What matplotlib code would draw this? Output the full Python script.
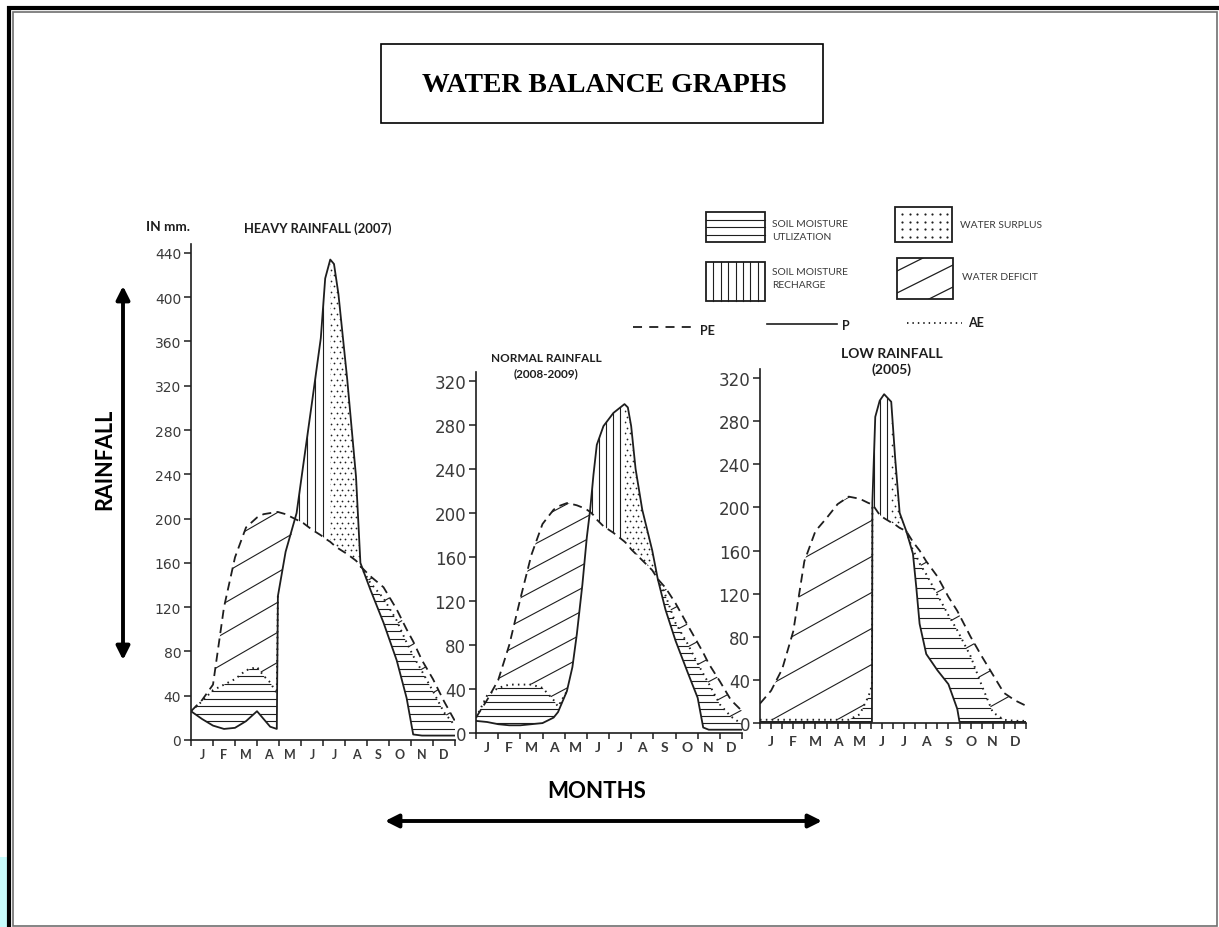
import numpy as np
import matplotlib
matplotlib.use('Agg')
import matplotlib.pyplot as plt
from matplotlib.collections import LineCollection
from matplotlib.patches import Rectangle

W, H = 1219, 928
INK = '#1e1e1e'
GREY = '#3a3a3a'
SANS = ['Lato', 'DejaVu Sans']

months = ['J', 'F', 'M', 'A', 'M', 'J', 'J', 'A', 'S', 'O', 'N', 'D']

# ---- heavy rainfall (2007) : month position, P, PE, AE in mm ----
heavy_x = [0, 0.5, 1.0, 1.5, 2.0, 2.5, 3.0, 3.3, 3.6, 3.9, 3.95, 4.3, 4.8, 5.1, 5.5, 5.9,
           6.1, 6.33, 6.5, 6.7, 7.1, 7.5, 7.7, 8.15, 8.75, 9.35, 9.8, 10.1, 10.5, 11.0, 11.5, 12.0]
heavy_p = [26, 19, 13, 10, 11, 17, 26, 19, 12, 10, 130, 170, 205, 248, 305, 363,
           417, 434, 430, 403, 326, 238, 160, 136, 106, 72, 38, 5, 4, 4, 4, 4]
heavy_pe = [26, 36, 50, 120, 165, 192, 201, 204, 205, 206, 206, 204, 199, 196, 190, 185,
            182, 179, 176, 173, 168, 162, 157, 148, 138, 118, 100, 89, 72, 55, 35, 17]
heavy_ae = [26, 35, 45, 50, 55, 63, 66, 58, 52, 42, 130, 170, 199, 196, 190, 185,
            182, 179, 176, 173, 168, 162, 157, 142, 128, 108, 88, 76, 62, 44, 25, 13]
heavy_split = 6.33   # recharge ends, surplus starts
heavy_ticks = [0, 40, 80, 120, 160, 200, 240, 280, 320, 360, 400, 440]

# ---- normal rainfall (2008-2009) ----
normal_x = [0, 0.5, 1.0, 1.5, 2.0, 2.5, 3.0, 3.5, 3.7, 4.1, 4.35, 4.55, 4.8, 5.0, 5.15, 5.3,
            5.45, 5.75, 6.2, 6.7, 6.85, 7.0, 7.2, 7.5, 7.95, 8.2, 8.55, 9.0, 9.55, 10.0,
            10.25, 10.5, 11.0, 11.5, 12.0]
normal_p = [11, 10, 8, 7, 7, 8, 9, 14, 19, 38, 60, 90, 135, 178, 203, 235,
            262, 279, 291, 299, 296, 279, 240, 203, 166, 140, 112, 84, 55, 32,
            5, 3, 3, 3, 3]
normal_pe = [14, 30, 48, 80, 122, 162, 190, 203, 206, 209, 208, 207, 205, 203, 201, 198,
             194, 188, 182, 174, 171, 167, 163, 157, 148, 140, 132, 118, 98, 82,
             73, 63, 47, 30, 20]
normal_ae = [14, 34, 41, 44, 44, 44, 41, 30, 24, 38, 60, 90, 135, 178, 201, 198,
             194, 188, 182, 174, 171, 167, 163, 157, 148, 140, 125, 100, 81, 63,
             54, 45, 26, 15, 8]
normal_split = 6.7
normal_ticks = [0, 40, 80, 120, 160, 200, 240, 280, 320]

# ---- low rainfall (2005) ----
low_x = [0, 0.5, 1.0, 1.5, 2.0, 2.5, 3.0, 3.5, 4.0, 4.5, 4.9, 5.05, 5.07, 5.2, 5.4, 5.6,
         5.92, 6.1, 6.3, 6.6, 6.9, 7.05, 7.2, 7.5, 8.0, 8.5, 8.9, 9.0, 9.5, 10.0, 10.5,
         11.0, 11.5, 12.0]
low_p = [1, 1, 1, 1, 1, 1, 1, 1, 1, 1, 1, 1, 205, 284, 299, 305,
         298, 245, 195, 178, 157, 126, 92, 64, 49, 36, 13, 1, 1, 1, 1,
         1, 1, 1]
low_pe = [18, 30, 50, 85, 150, 178, 190, 203, 210, 208, 204, 203, 203, 199, 193, 190,
          186, 184, 181, 178, 168, 164, 160, 150, 136, 117, 104, 100, 80, 62, 45,
          28, 21, 16]
low_ae = [3, 3, 3, 3, 3, 3, 3, 3, 3, 8, 25, 35, 203, 199, 193, 190,
          186, 184, 181, 178, 160, 155, 148, 138, 119, 100, 86, 82, 62, 35, 10,
          3, 2, 2]
low_split = 5.92
low_ticks = [0, 40, 80, 120, 160, 200, 240, 280, 320]


def hatch_fill(ax, x, lo, hi, kind, step, slope=0.0):
    x = np.asarray(x, float)
    lo = np.asarray(lo, float)
    hi = np.asarray(hi, float)
    coll = ax.fill_between(x, lo, hi, where=hi > lo, interpolate=True,
                           facecolor='none', edgecolor='none', linewidth=0)
    ymax = ax.get_ylim()[1]
    for path in coll.get_paths():
        if kind == 'dots':
            gx, gy = np.meshgrid(np.arange(0, 12, step[0]), np.arange(step[1] / 2, ymax, step[1]))
            gx = gx + (np.arange(gy.shape[0])[:, None] % 2) * step[0] / 2
            art = ax.scatter(gx.ravel(), gy.ravel(), s=1.6, c=INK, linewidths=0, zorder=2)
        else:
            if kind == 'h':
                segs = [[(0, v), (12, v)] for v in np.arange(step / 2, ymax, step)]
            elif kind == 'v':
                segs = [[(v, 0), (v, ymax)] for v in np.arange(step / 2, 12, step)]
            else:
                segs = [[(0, c), (12, c + 12 * slope)] for c in np.arange(-12 * slope, ymax, step)]
            art = LineCollection(segs, colors=INK, linewidths=0.8, zorder=2)
            ax.add_collection(art)
        art.set_clip_path(path, ax.transData)


def ae_masked(ae, p, pe):
    ae = np.asarray(ae, float)
    same = (ae == np.asarray(p, float)) | (ae == np.asarray(pe, float))
    hide = same.copy()
    hide[1:-1] = same[1:-1] & same[:-2] & same[2:]
    hide[0] = hide[-1] = False
    return np.ma.masked_where(hide, ae)


def draw_panel(frame, x, p, pe, ae, split, ticks, style):
    x0, x1, y0, kpx, top = frame
    ax = fig.add_axes([x0 / W, 1 - y0 / H, (x1 - x0) / W, top * kpx / H])
    ax.set_facecolor('none')
    ax.set_xlim(0, 12)
    ax.set_ylim(0, top)
    ax.set_autoscale_on(False)
    kx = (x1 - x0) / 12.0

    x = np.asarray(x, float)
    p = np.asarray(p, float)
    pe = np.asarray(pe, float)
    ae = np.asarray(ae, float)

    # water deficit (PE above AE)
    hatch_fill(ax, x, ae, pe, 'd', style['d_gap'] / kpx,
               slope=np.tan(np.radians(style['d_angle'])) * kx / kpx)
    # soil moisture utilization (AE above P)
    hatch_fill(ax, x, p, ae, 'h', style['h_gap'] / kpx)
    # recharge and surplus (P above PE)
    left = x <= split
    right = x >= split
    hatch_fill(ax, x[left], pe[left], p[left], 'v', style['v_gap'] / kx)
    hatch_fill(ax, x[right], pe[right], p[right], 'dots', (5.5 / kx, 5.5 / kpx))

    ax.plot(x, p, color=INK, lw=1.3, solid_joinstyle='round', zorder=3)
    ax.plot(x, pe, color=INK, lw=1.3, linestyle=(0, (5, 3)), zorder=3)
    ax.plot(x, ae_masked(ae, p, pe), color=INK, lw=1.4, linestyle=(0, (0.8, 2.2)), zorder=3)

    for s in ['top', 'right']:
        ax.spines[s].set_visible(False)
    for s in ['left', 'bottom']:
        ax.spines[s].set_linewidth(1.2)
        ax.spines[s].set_color(INK)

    ax.set_yticks(ticks)
    ax.set_yticklabels([str(t) for t in ticks], fontsize=style['yfs'], color=GREY)
    ax.xaxis.remove_overlapping_locs = False
    ax.set_xticks(np.arange(0, 12.01, style['xstep']))
    ax.set_xticklabels([])
    ax.set_xticks(np.arange(0.5, 12, 1), minor=True)
    ax.set_xticklabels(months, minor=True, fontsize=style['xfs'], color=GREY,
                       fontweight='bold', family=SANS)
    ax.tick_params(axis='y', direction='out', length=5, width=1.1, color=INK, pad=2)
    ax.tick_params(axis='x', which='major', direction='out', length=4, width=1.1, color=INK)
    ax.tick_params(axis='x', which='minor', length=0, pad=style['xpad'])
    return ax


fig = plt.figure(figsize=(W / 100, H / 100), dpi=100)
fig.patch.set_facecolor('white')

# frame: (left px, right px, zero-line px, px per mm, top value)
draw_panel((191, 455, 741, 1.107, 448), heavy_x, heavy_p, heavy_pe, heavy_ae, heavy_split,
           heavy_ticks, dict(d_gap=30, d_angle=30, h_gap=7.5, v_gap=8, yfs=10, xfs=9,
                             xstep=1, xpad=6))
draw_panel((476, 742, 734, 1.10, 328), normal_x, normal_p, normal_pe, normal_ae, normal_split,
           normal_ticks, dict(d_gap=23, d_angle=28, h_gap=7, v_gap=7, yfs=12, xfs=10,
                              xstep=1, xpad=6))
draw_panel((760, 1026, 724, 1.078, 328), low_x, low_p, low_pe, low_ae, low_split,
           low_ticks, dict(d_gap=36, d_angle=29, h_gap=10, v_gap=6.5, yfs=12, xfs=10,
                           xstep=0.5, xpad=9))

# overlay in pixel coordinates for frame, titles, legend and arrows
ov = fig.add_axes([0, 0, 1, 1])
ov.set_xlim(0, W)
ov.set_ylim(H, 0)
ov.axis('off')
ov.set_facecolor('none')

ov.add_patch(Rectangle((0, 858), 7, 70, facecolor='#c8fbfb', edgecolor='none'))
ov.plot([9, 9], [7, H], color='black', lw=3, solid_capstyle='butt')
ov.plot([7, W], [9, 9], color='black', lw=3, solid_capstyle='butt')
ov.add_patch(Rectangle((12.5, 12.5), 1204.5, 914, fill=False, edgecolor='#707070', lw=1.2))

ov.add_patch(Rectangle((381, 45), 442, 79, fill=False, edgecolor='black', lw=1.2))
ov.text(604, 86, 'WATER BALANCE GRAPHS', ha='center', va='center', fontsize=20,
        fontweight='bold', family=['Liberation Serif', 'DejaVu Serif'], color='black')

ov.text(146, 227, 'IN mm.', ha='left', va='center', fontsize=9.8, fontweight='bold',
        family=SANS, color=INK)
ov.text(318, 229, 'HEAVY RAINFALL (2007)', ha='center', va='center', fontsize=9.3,
        fontweight='bold', family=SANS, color=INK)
ov.text(546, 366, 'NORMAL RAINFALL\n(2008-2009)', ha='center', va='center', fontsize=8.5,
        fontweight='bold', family=SANS, color=INK, linespacing=1.45)
ov.text(892, 362, 'LOW RAINFALL\n(2005)', ha='center', va='center', fontsize=10,
        fontweight='bold', family=SANS, color=INK, linespacing=1.3)

# legend swatches
lw_box = 1.3
r = Rectangle((706, 213), 59, 30, fill=False, edgecolor=INK, lw=lw_box)
ov.add_patch(r)
for k in range(1, 4):
    ov.plot([706, 765], [213 + 7.5 * k] * 2, color=INK, lw=0.8)
r = Rectangle((706, 263), 59, 39, fill=False, edgecolor=INK, lw=lw_box)
ov.add_patch(r)
for k in range(1, 8):
    ov.plot([706 + 7.4 * k] * 2, [263, 302], color=INK, lw=0.8)
r = Rectangle((895, 208), 57, 35, fill=False, edgecolor=INK, lw=lw_box)
ov.add_patch(r)
gx, gy = np.meshgrid(np.arange(902, 950, 7.5), np.arange(215, 242, 7.5))
ov.scatter(gx.ravel(), gy.ravel(), s=2.5, c=INK, linewidths=0)
r = Rectangle((897, 259), 56, 41, fill=False, edgecolor=INK, lw=lw_box)
ov.add_patch(r)
for c in [272, 294, 316]:
    ln, = ov.plot([897, 953], [c, c - 28], color=INK, lw=0.9)
    ln.set_clip_path(r)

lab = dict(fontsize=7.4, color=GREY, family=SANS, va='center', ha='left', linespacing=1.45)
ov.text(772, 231, 'SOIL MOISTURE\nUTLIZATION', **lab)
ov.text(772, 279, 'SOIL MOISTURE\nRECHARGE', **lab)
ov.text(960, 226, 'WATER SURPLUS', **lab)
ov.text(962, 278, 'WATER DEFICIT', **lab)

ov.plot([633, 695], [328, 328], color=INK, lw=1.3, linestyle=(0, (5, 4)))
ov.text(700, 331, 'PE', fontsize=9, fontweight='bold', family=SANS, va='center', color=INK)
ov.plot([767, 837], [325, 325], color=INK, lw=1.2)
ov.text(842, 326, 'P', fontsize=9, fontweight='bold', family=SANS, va='center', color=INK)
ov.plot([907, 962], [324, 324], color=INK, lw=1.3, linestyle=(0, (0.8, 2.2)))
ov.text(968, 323, 'AE', fontsize=9, fontweight='bold', family=SANS, va='center', color=INK)

# axis arrows
arrow = dict(arrowstyle='<|-|>', lw=2.8, color='black', mutation_scale=20, shrinkA=0, shrinkB=0)
ov.annotate('', xy=(123, 287), xytext=(123, 661), arrowprops=arrow)
ov.annotate('', xy=(385, 822), xytext=(822, 822), arrowprops=arrow)
ov.text(105, 459, 'RAINFALL', rotation=90, ha='center', va='center', fontsize=15.5,
        fontweight='bold', family=SANS, color='black')
ov.text(597, 792, 'MONTHS', ha='center', va='center', fontsize=16,
        fontweight='bold', family=SANS, color='black')

fig.savefig('out.png', dpi=100)
